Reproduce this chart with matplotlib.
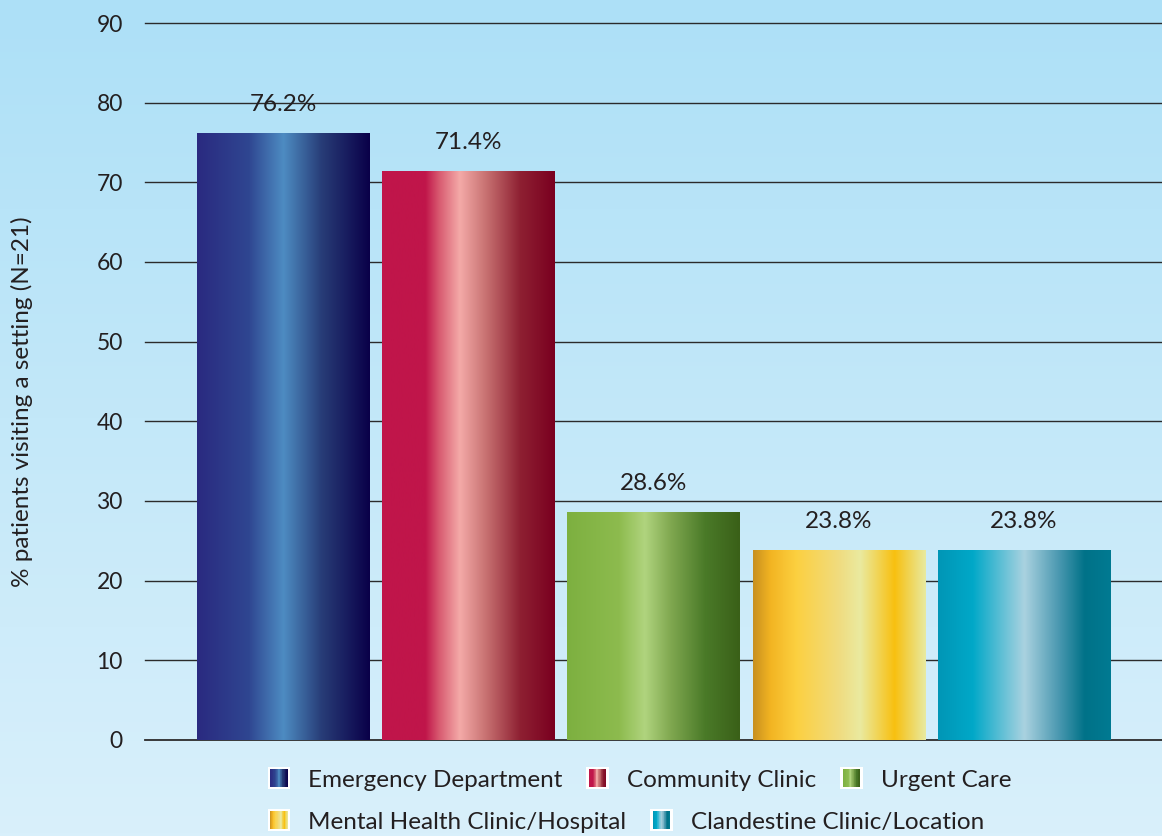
import matplotlib
matplotlib.use("Agg")
import matplotlib.pyplot as plt
import numpy as np
from matplotlib.colors import LinearSegmentedColormap
from matplotlib.legend_handler import HandlerBase
from matplotlib.patches import Rectangle

categories = ["Emergency Department", "Community Clinic", "Urgent Care",
              "Mental Health Clinic/Hospital", "Clandestine Clinic/Location"]
values = [76.2, 71.4, 28.6, 23.8, 23.8]
value_labels = ["76.2%", "71.4%", "28.6%", "23.8%", "23.8%"]
yticks = [0, 10, 20, 30, 40, 50, 60, 70, 80, 90]

# horizontal gradient stops for each bar
gradients = [
    [(0, "#2a2a80"), (0.3, "#2f4691"), (0.5, "#4d8cc2"), (0.72, "#283d78"), (1, "#0a0048")],
    [(0, "#c0154a"), (0.25, "#c0154a"), (0.33, "#d85a70"), (0.45, "#f4aaa8"), (0.6, "#c87272"), (0.8, "#8e2032"), (1, "#7a0020")],
    [(0, "#7db040"), (0.3, "#8dbb4e"), (0.45, "#b0d47e"), (0.6, "#80a850"), (0.8, "#4a7a28"), (1, "#3a6018")],
    [(0, "#c89020"), (0.1, "#f2b422"), (0.25, "#fcd040"), (0.5, "#f0dc80"), (0.62, "#eaeaa0"), (0.82, "#f8c010"), (1, "#e8eaa0")],
    [(0, "#0096b6"), (0.2, "#00a8c8"), (0.5, "#aad2e0"), (0.7, "#4a98b0"), (0.85, "#007288"), (1, "#007a92")],
]
cmaps = [LinearSegmentedColormap.from_list(f"g{i}", g) for i, g in enumerate(gradients)]

text_color = "#231f20"
plt.rcParams["font.family"] = ["Lato", "DejaVu Sans"]

fig = plt.figure(figsize=(11.62, 8.36), dpi=100)

# background gradient
bg = fig.add_axes([0, 0, 1, 1], zorder=-10)
bg_cmap = LinearSegmentedColormap.from_list("bg", ["#d9f0fb", "#ade0f7"])
bg.imshow(np.linspace(0, 1, 256).reshape(-1, 1), aspect="auto", cmap=bg_cmap,
          origin="lower", extent=[0, 1, 0, 1])
bg.axis("off")

ax = fig.add_axes([145 / 1162, 1 - 740 / 836, 1 - 145 / 1162, (740 - 23) / 836])
ax.patch.set_alpha(0)

x = np.arange(len(categories))
bars = ax.bar(x, values, width=0.93, color="none", zorder=3)
grad = np.linspace(0, 1, 256).reshape(1, -1)
for bar, cm in zip(bars, cmaps):
    x0, y0 = bar.get_x(), bar.get_y()
    w, h = bar.get_width(), bar.get_height()
    im = ax.imshow(grad, cmap=cm, aspect="auto", extent=[x0, x0 + w, y0, y0 + h],
                   zorder=3, interpolation="bilinear")
    im.set_clip_path(bar)

for bar, lab in zip(bars, value_labels):
    ax.annotate(lab, (bar.get_x() + bar.get_width() / 2, bar.get_height()),
                xytext=(0, 13), textcoords="offset points", ha="center", va="bottom",
                fontsize=17.5, color=text_color)

ax.set_xlim(-0.745, 4.745)
ax.set_ylim(0, 90)
ax.set_xticks([])
ax.set_yticks(yticks)
ax.set_yticklabels([str(t) for t in yticks], fontsize=16.5, color=text_color)
ax.tick_params(axis="y", length=0, pad=16)
for s in ax.spines.values():
    s.set_visible(False)
for t in yticks:
    ax.axhline(t, color="#2b2b2b", lw=1.0 if t else 1.3, zorder=2, clip_on=False)

fig.text(0.019, 1 - 402 / 836, "% patients visiting a setting (N=21)",
         rotation=90, ha="center", va="center", fontsize=17.5, color=text_color)


class GradientHandler(HandlerBase):
    def __init__(self, cmap, n=24):
        super().__init__()
        self.cmap = cmap
        self.n = n

    def create_artists(self, legend, orig_handle, xdescent, ydescent, width, height,
                       fontsize, trans):
        size = height * 1.0
        x0 = -xdescent + (width - size) / 2
        y0 = -ydescent + (height - size) / 2
        arts = [Rectangle((x0 - 2, y0 - 2), size + 4, size + 4, facecolor="white",
                          edgecolor="none", transform=trans)]
        sw = size / self.n
        for i in range(self.n):
            arts.append(Rectangle((x0 + i * sw, y0), sw * 1.1, size,
                                  facecolor=self.cmap((i + 0.5) / self.n),
                                  edgecolor="none", transform=trans))
        return arts


handles = [Rectangle((0, 0), 1, 1) for _ in categories]
rows = [[0, 1, 2], [3, 4]]
row_y = [1 - 780 / 836, 1 - 822 / 836]
for idx, yy in zip(rows, row_y):
    leg = fig.legend([handles[i] for i in idx], [categories[i] for i in idx],
                     handler_map={handles[i]: GradientHandler(cmaps[i]) for i in idx},
                     loc="center left", bbox_to_anchor=(268 / 1162, yy), ncol=len(idx),
                     frameon=False, fontsize=17.5, handlelength=0.9, handletextpad=0.75,
                     columnspacing=1.0, borderpad=0, borderaxespad=0, labelcolor=text_color)

fig.savefig("out.png", dpi=100)
